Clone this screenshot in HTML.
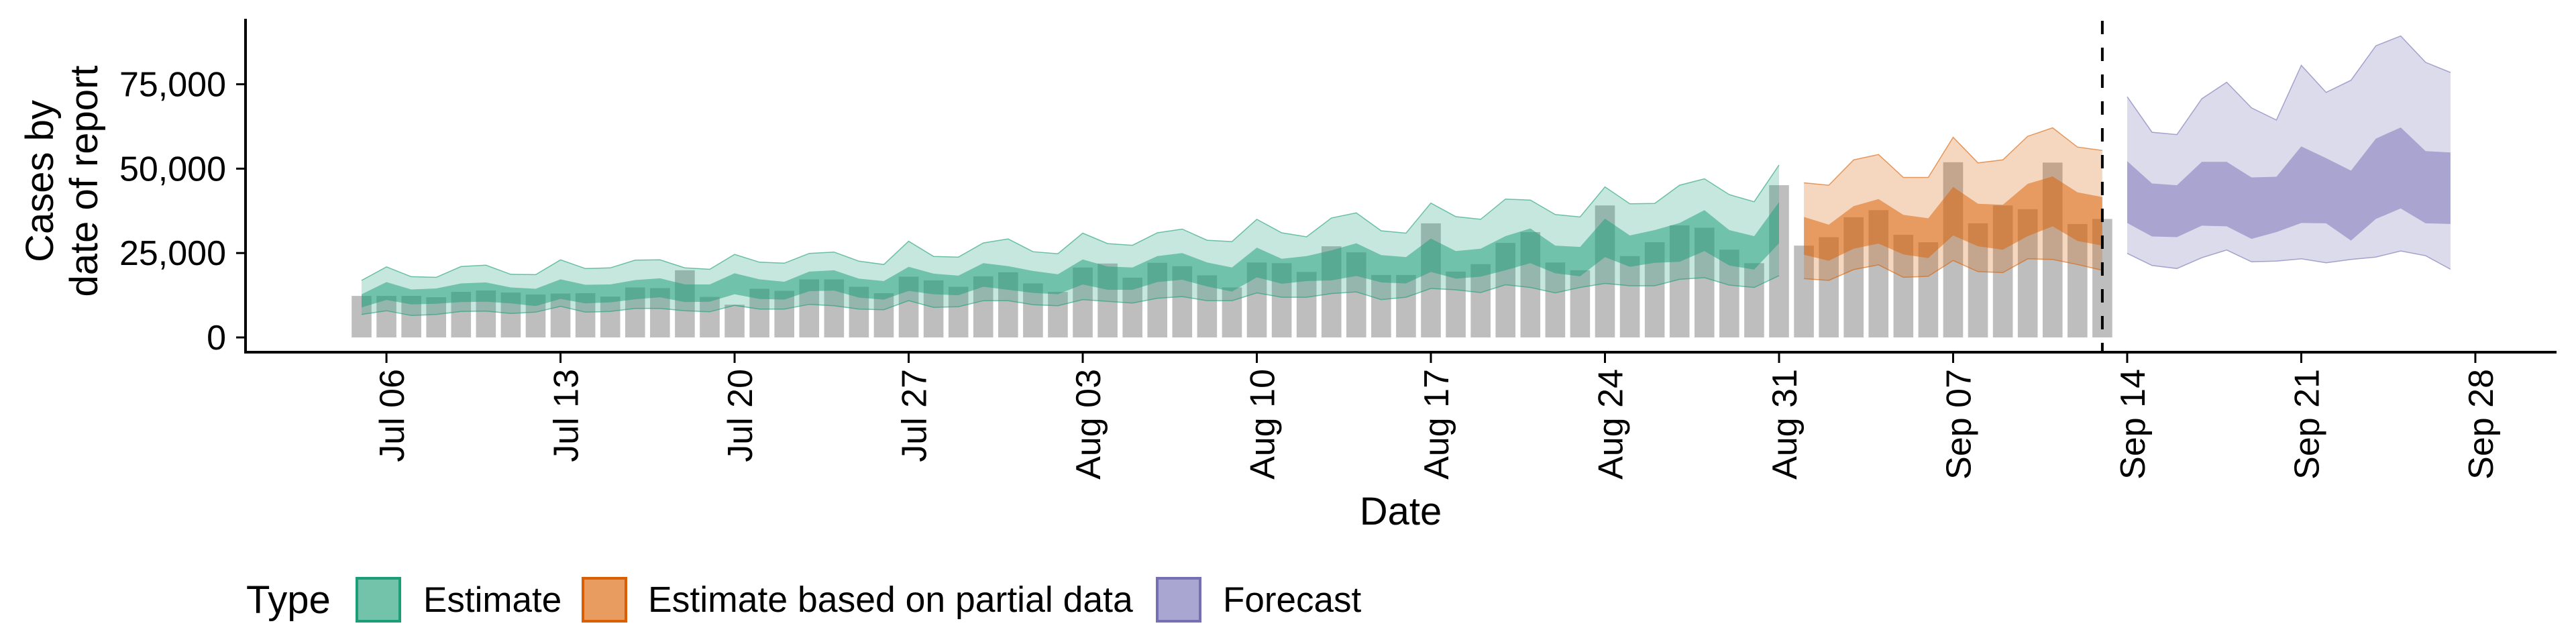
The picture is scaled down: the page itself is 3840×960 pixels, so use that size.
<!DOCTYPE html>
<html><head><meta charset="utf-8"><style>
html,body{margin:0;padding:0;background:#fff;}
svg{display:block;font-family:"Liberation Sans",Arial,sans-serif;}
</style></head><body>
<svg id="chart" width="3840" height="960" viewBox="0 0 3840 960" xmlns="http://www.w3.org/2000/svg">
<g id="bars"></g>
<g id="ribbons"></g>
<g id="axes"></g>
<text transform="translate(79,270) rotate(-90)" text-anchor="middle" font-size="58">Cases by</text>
<text transform="translate(145,270) rotate(-90)" text-anchor="middle" font-size="58">date of report</text>
<text x="2088" y="782" text-anchor="middle" font-size="58">Date</text>
<g>
<text x="367" y="914" font-size="58">Type</text>
<g>
<rect x="532" y="862" width="64" height="64" fill="#73c2aa" stroke="#1b9e77" stroke-width="4"/>
<text x="631" y="912" font-size="53">Estimate</text></g>
<g>
<rect x="869" y="862" width="64" height="64" fill="#e89c60" stroke="#d95f02" stroke-width="4"/>
<text x="966" y="912" font-size="53.5">Estimate based on partial data</text></g>
<g>
<rect x="1725" y="862" width="64" height="64" fill="#a9a6d2" stroke="#7570b3" stroke-width="4"/>
<text x="1823" y="912" font-size="53">Forecast</text></g>
</g>
</svg>
<script>
// values in thousands; day 0 = Jul 05
const bars = [12.3,12.3,12.3,11.9,13.5,13.9,13.3,12.7,13.0,13.1,12.1,14.8,14.6,19.9,12.0,9.7,14.4,13.8,17.2,17.2,15.0,13.1,18.0,16.9,15.0,18.1,19.3,16.0,13.5,20.7,21.9,17.7,22.1,21.1,18.4,14.8,22.2,22.0,19.4,27.0,25.2,18.5,18.5,33.8,19.5,21.7,28.0,31.2,22.2,19.9,39.1,24.1,28.2,33.2,32.5,26.0,22.0,45.1,27.2,29.7,35.6,37.7,30.4,28.2,51.9,33.8,39.1,38.0,51.8,33.6,35.1];
const estStart = 0;
const estOuterHi = [16.9,20.9,18.0,17.8,21.0,21.4,18.7,18.6,23.0,20.4,20.6,22.9,23.0,20.6,20.2,24.6,22.3,22.0,24.9,25.3,22.6,21.6,28.5,24.0,23.8,28.0,29.2,25.4,24.8,30.9,27.8,27.3,31.0,32.1,28.8,28.4,35.0,31.0,29.8,35.4,36.9,31.6,30.9,39.8,35.8,35.0,41.0,40.7,36.4,35.7,44.6,39.6,39.7,45.1,47.0,42.3,40.2,51.1];
const estInnerHi = [12.8,16.4,14.2,14.5,16.0,16.3,14.8,14.4,17.2,15.6,15.7,17.0,17.5,15.7,15.7,19.0,17.2,16.5,19.5,19.9,17.4,16.7,20.9,18.9,18.3,22.0,21.1,19.7,18.7,23.1,21.0,20.7,24.1,25.0,22.2,20.7,26.6,23.3,24.1,25.8,27.9,24.4,23.8,29.3,25.6,26.3,30.0,32.3,27.2,26.8,35.2,30.2,31.8,33.9,37.7,31.8,30.0,40.1];
const estInnerLo = [8.9,11.1,9.8,10.0,10.5,10.6,10.1,9.3,11.4,10.1,10.4,11.3,11.9,10.5,10.6,12.8,11.4,11.2,13.7,13.9,11.8,11.2,13.8,12.8,12.5,15.0,14.1,13.2,12.8,15.7,14.1,14.1,16.4,17.1,15.1,13.6,17.8,15.9,16.7,16.9,18.2,16.3,16.0,19.4,17.4,18.0,19.9,22.0,19.0,18.1,23.8,20.9,22.1,22.4,25.6,21.3,20.1,27.9];
const estOuterLo = [6.8,7.9,6.5,6.8,7.7,7.8,7.1,7.5,9.2,7.5,7.7,8.6,8.6,7.9,7.6,9.5,8.4,8.4,9.8,9.4,8.4,8.2,10.9,8.9,9.1,10.9,10.9,9.7,9.4,11.2,10.7,10.2,11.6,12.1,10.9,10.9,13.2,11.9,11.9,13.0,13.5,11.2,11.9,14.5,14.1,13.3,15.6,14.8,13.2,14.8,16.0,15.3,15.3,17.2,17.7,15.5,14.8,18.3];
const partStart = 58;
const partOuterHi = [45.8,45.1,52.6,54.2,47.4,47.4,59.3,51.7,52.6,59.6,62.1,56.4,55.4];
const partInnerHi = [35.7,33.4,38.9,41.0,36.3,35.3,44.6,39.6,39.3,45.5,47.7,43.0,41.6];
const partInnerLo = [24.5,22.7,26.3,27.8,24.6,23.5,30.2,27.0,26.0,30.0,32.9,28.6,27.2];
const partOuterLo = [17.4,16.9,20.1,21.5,17.8,18.1,22.8,19.5,19.2,23.3,23.1,21.6,19.9];
const fcStart = 71;
const fcOuterHi = [71.3,60.8,60.1,70.7,75.6,68.0,64.4,80.6,72.6,76.2,86.4,89.3,81.5,78.5];
const fcInnerHi = [52.2,45.6,45.1,52.0,52.0,47.4,47.6,56.6,53.1,49.4,58.9,62.2,55.2,54.8];
const fcInnerLo = [33.9,29.9,29.7,33.1,32.9,29.2,31.2,33.9,33.8,28.7,35.1,38.2,33.8,33.6];
const fcOuterLo = [24.9,21.3,20.4,23.6,25.9,22.4,22.6,23.3,22.1,23.1,23.8,25.6,24.2,20.2];
const yTicks = [0,25,50,75];
const yTickLabels = ["0","25,000","50,000","75,000"];
const xTickDays = [1,8,15,22,29,36,43,50,57,64,71,78,85];
const xTickLabels = ["Jul 06","Jul 13","Jul 20","Jul 27","Aug 03","Aug 10","Aug 17","Aug 24","Aug 31","Sep 07","Sep 14","Sep 21","Sep 28"];
const cutoffDay = 70;

const NS="http://www.w3.org/2000/svg";
const X = d => 539 + 37.07*d;
const Y = v => 503 - v*5.032;
function mk(tag, attrs, parent){const e=document.createElementNS(NS,tag);for(const k in attrs)e.setAttribute(k,attrs[k]);parent.appendChild(e);return e;}

const gb=document.getElementById('bars');
bars.forEach((v,i)=>{
  const r=mk('rect',{x:X(i)-14.8,y:Y(v),width:29.6,height:Y(0)-Y(v),fill:'#bebebe'},gb);
  
  
});

const gr=document.getElementById('ribbons');
function band(start,hi,lo,fill,op,stroke,name){
  let pts=[];
  hi.forEach((v,i)=>pts.push(X(start+i).toFixed(1)+','+Y(v).toFixed(1)));
  for(let i=lo.length-1;i>=0;i--)pts.push(X(start+i).toFixed(1)+','+Y(lo[i]).toFixed(1));
  const p=mk('polygon',{points:pts.join(' '),fill:fill,'fill-opacity':op},gr);
  
  
  if(stroke){
    const up=hi.map((v,i)=>X(start+i).toFixed(1)+','+Y(v).toFixed(1)).join(' ');
    const dn=lo.map((v,i)=>X(start+i).toFixed(1)+','+Y(v).toFixed(1)).join(' ');
    const a=mk('polyline',{points:up,fill:'none',stroke:fill,'stroke-opacity':0.6,'stroke-width':1.5},gr);
    
    
    const b=mk('polyline',{points:dn,fill:'none',stroke:fill,'stroke-opacity':0.6,'stroke-width':1.5},gr);
    
    
  }
}
band(estStart,estOuterHi,estOuterLo,'#1b9e77',0.25,true,'estimate-outer-band');
band(estStart,estInnerHi,estInnerLo,'#1b9e77',0.5,false,'estimate-inner-band');
band(partStart,partOuterHi,partOuterLo,'#d95f02',0.25,true,'partial-outer-band');
band(partStart,partInnerHi,partInnerLo,'#d95f02',0.5,false,'partial-inner-band');
band(fcStart,fcOuterHi,fcOuterLo,'#7570b3',0.25,true,'forecast-outer-band');
band(fcStart,fcInnerHi,fcInnerLo,'#7570b3',0.5,false,'forecast-inner-band');

const ga=document.getElementById('axes');
const cl=mk('line',{x1:X(cutoffDay),x2:X(cutoffDay),y1:31,y2:525,stroke:'#000','stroke-width':4,'stroke-dasharray':'20,20'},ga);


const ya=mk('line',{x1:366,x2:366,y1:28,y2:527,stroke:'#000','stroke-width':4},ga);


const xa=mk('line',{x1:364,x2:3811,y1:525,y2:525,stroke:'#000','stroke-width':4},ga);


yTicks.forEach((v,i)=>{
  const t=mk('line',{x1:352,x2:366,y1:Y(v),y2:Y(v),stroke:'#000','stroke-width':3},ga);
  
  
  const l=mk('text',{x:337,y:Y(v)+18,'text-anchor':'end','font-size':52},ga);
  l.textContent=yTickLabels[i];
  
  
});
xTickDays.forEach((d,i)=>{
  const x=X(d);
  const t=mk('line',{x1:x,x2:x,y1:525,y2:541,stroke:'#000','stroke-width':3},ga);
  
  
  const l=mk('text',{transform:'translate('+(x+26)+',550) rotate(-90)','text-anchor':'end','font-size':52},ga);
  l.textContent=xTickLabels[i];
  
  
});
</script>
</body></html>
